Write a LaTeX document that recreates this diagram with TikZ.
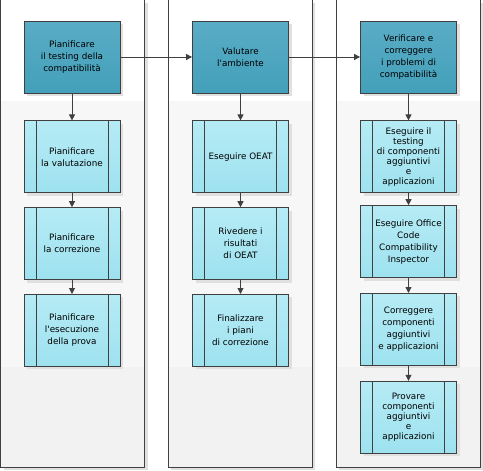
\documentclass[tikz,border=0pt]{standalone}
\usepackage{fontspec}
\setmainfont{DejaVu Sans}
\usetikzlibrary{positioning,shadows,arrows.meta}
\definecolor{laneline}{HTML}{404040}
\definecolor{phasetop}{HTML}{5AACC5}
\definecolor{phasebot}{HTML}{43A0BA}
\definecolor{steptop}{HTML}{B5EBF5}
\definecolor{stepbot}{HTML}{9EE2EF}
\definecolor{bandA}{HTML}{F7F7F7}
\definecolor{bandB}{HTML}{F2F2F2}
\tikzset{
  phase/.style={draw=laneline, line width=0.8pt, top color=phasetop, bottom color=phasebot,
    minimum width=96pt, minimum height=72pt, inner sep=1pt, align=center,
    font=\fontsize{8.8}{12}\selectfont,
    drop shadow={shadow xshift=3pt, shadow yshift=-3pt, fill=black!12, opacity=1}},
  subtask/.style={phase, top color=steptop, bottom color=stepbot,
    path picture={\draw[laneline, line width=0.8pt]
      ([xshift=12pt]path picture bounding box.north west) -- ([xshift=12pt]path picture bounding box.south west)
      ([xshift=-12pt]path picture bounding box.north east) -- ([xshift=-12pt]path picture bounding box.south east);}},
  tight/.style={font=\fontsize{8.8}{10}\selectfont},
  flow/.style={draw=laneline, line width=0.8pt, -{Triangle[width=6pt,length=6pt]}}
}
\begin{document}
\begin{tikzpicture}[x=1pt, y=-1pt, node distance=14pt]
    \useasboundingbox (0,0) rectangle (483,471);
    \foreach \lx in {0.5,168,336}{
        \fill[black!12] (\lx+3,3) rectangle (\lx+147,470);
        \fill[white] (\lx,-2) rectangle (\lx+144,101);
        \fill[bandA] (\lx,101) rectangle (\lx+144,367);
        \fill[bandB] (\lx,367) rectangle (\lx+144,467);
        \draw[laneline, line width=0.8pt] (\lx,-2) rectangle (\lx+144,467);
    }

    \node[phase] (plan) at (72,57) {Pianificare\\il testing della\\compatibilità};
    \node[phase] (eval) at (240.5,57) {Valutare\\l\textquotesingle ambiente};
    \node[phase] (fix) at (408.5,57) {Verificare e\\correggere\\i problemi di\\compatibilità};

    \node[subtask, below=27pt of plan] (plan1) {Pianificare\\la valutazione};
    \node[subtask, below=of plan1] (plan2) {Pianificare\\la correzione};
    \node[subtask, below=of plan2] (plan3) {Pianificare\\l\textquotesingle esecuzione\\della prova};

    \node[subtask, below=27pt of eval] (eval1) {Eseguire OEAT};
    \node[subtask, below=of eval1] (eval2) {Rivedere i\\risultati\\di OEAT};
    \node[subtask, below=of eval2] (eval3) {Finalizzare\\i piani\\di correzione};

    \node[subtask, tight, below=27pt of fix] (fix1) {Eseguire il\\testing\\di componenti\\aggiuntivi\\e\\applicazioni};
    \node[subtask, below=12pt of fix1] (fix2) {Eseguire Office\\Code\\Compatibility\\Inspector};
    \node[subtask, below=15pt of fix2] (fix3) {Correggere\\componenti\\aggiuntivi\\e applicazioni};
    \node[subtask, tight, below=15pt of fix3] (fix4) {Provare\\componenti\\aggiuntivi\\e\\applicazioni};

    \draw[flow] (plan) -- (eval);
    \draw[flow] (eval) -- (fix);
    \foreach \a/\b in {plan/plan1,plan1/plan2,plan2/plan3,eval/eval1,eval1/eval2,eval2/eval3,fix/fix1,fix1/fix2,fix2/fix3,fix3/fix4}
        \draw[flow] (\a) -- (\b);
\end{tikzpicture}
\end{document}
